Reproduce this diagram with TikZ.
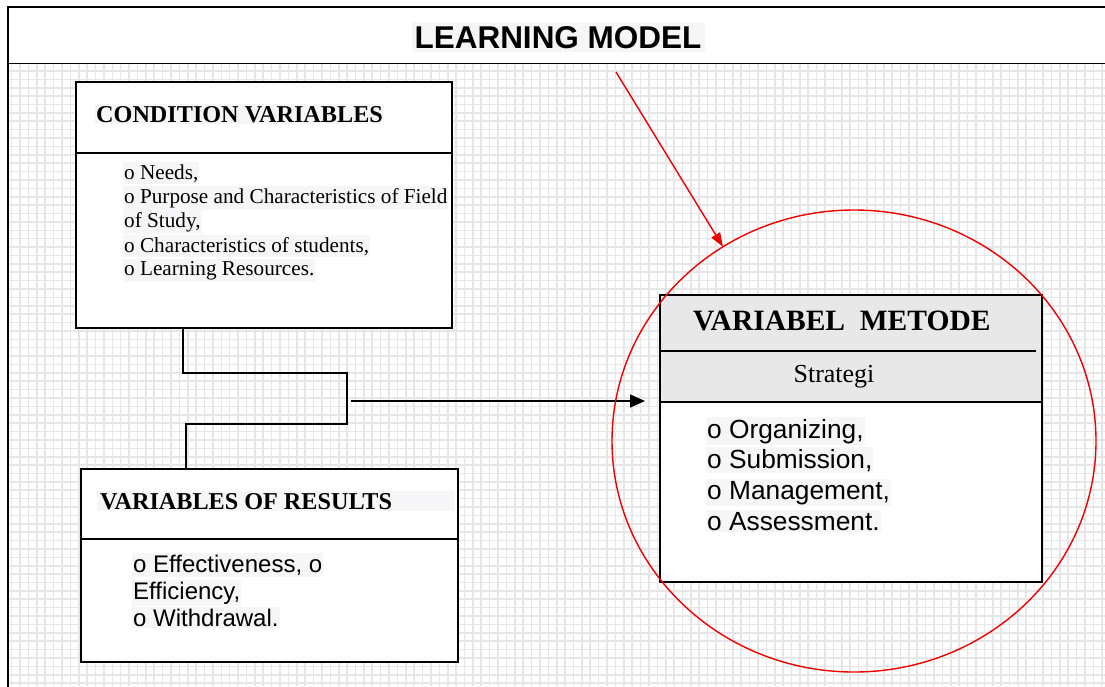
\documentclass[tikz,border=0pt]{standalone}
\usepackage{fontspec}
\setmainfont{Liberation Serif}
\newfontfamily\arialf{Liberation Sans}
\usetikzlibrary{arrows.meta,shapes.geometric}
\definecolor{gridc}{RGB}{230,230,230}
\definecolor{hl}{RGB}{246,246,248}
\definecolor{boxgray}{RGB}{232,232,232}
\definecolor{redc}{RGB}{238,0,0}
\tikzset{
  boxnode/.style={draw=black, line width=2pt, fill=white, anchor=north west, inner sep=0pt, outer sep=0pt},
  divider/.style={line width=1.8pt},
  conn/.style={line width=2pt},
  hltext/.style={fill=hl, anchor=base west, inner xsep=1pt, inner ysep=2pt},
  serifbul/.style={hltext, font=\fontsize{21.2}{24}\selectfont},
  sansbul/.style={hltext, font=\arialf\fontsize{24}{27}\selectfont},
  sansbulm/.style={hltext, font=\arialf\fontsize{26.3}{30}\selectfont},
  vartitle/.style={hltext, font=\bfseries\fontsize{24.2}{26}\selectfont},
}
\begin{document}
\begin{tikzpicture}[x=1pt,y=-1pt]
\useasboundingbox (0,0) rectangle (1105,686);
\fill[white] (0,0) rectangle (1105,686);
% grid
\begin{scope}
\clip (8,64) rectangle (1105,686);
\foreach \i in {0,...,132} \draw[gridc, line width=1.6pt] ({3.3+8.385*\i},64) -- ({3.3+8.385*\i},686);
\foreach \j in {0,...,76} \draw[gridc, line width=1.6pt] (8,{62.6+8.385*\j}) -- (1105,{62.6+8.385*\j});
\end{scope}
% header
\node[boxnode, line width=1.6pt, minimum width=1110, minimum height=56.5] (header) at (8,7) {};
\coordinate (framebottom) at (8,690);
\draw[line width=2pt] (header.north west) -- (framebottom);
\node[fill=hl, anchor=base, inner xsep=3pt, inner ysep=4pt, font=\arialf\bfseries\fontsize{31.5}{34}\selectfont] (title) at (558,48) {LEARNING MODEL};

% condition variables
\node[boxnode, minimum width=376, minimum height=246] (cond) at (76,82) {};
\draw[divider] (76,153) -- (452,153);
\node[vartitle] (condt) at (95,122) {CONDITION VARIABLES};
\node[serifbul] (c1) at (123,179) {o Needs,};
\node[serifbul] (c2) at (123,203) {o Purpose and Characteristics of Field};
\node[serifbul] (c3) at (123,227) {of Study,};
\node[serifbul] (c4) at (123,252) {o Characteristics of students,};
\node[serifbul] (c5) at (123,275) {o Learning Resources.};

% results
\node[boxnode, minimum width=377, minimum height=193] (res) at (81,469) {};
\draw[divider] (81,539) -- (458,539);
\node[vartitle] (rest) at (97,509) {\makebox[356pt][l]{\hspace{2pt}VARIABLES OF RESULTS}};
\node[sansbul] (r1) at (132,572) {o Effectiveness, o};
\node[sansbul] (r2) at (132,599) {Efficiency,};
\node[sansbul] (r3) at (132,626) {o Withdrawal.};

% method
\node[boxnode, minimum width=382, minimum height=287] (method) at (660,295) {};
\fill[boxgray] (661,296) rectangle (1041,402);
\draw[divider] (660,351) -- (1036,351);
\draw[divider] (660,402) -- (1042,402);
\draw[line width=2pt] (method.north west) rectangle (method.south east);
\node[anchor=base west, inner sep=0pt, font=\bfseries\fontsize{29.5}{32}\selectfont] (mt) at (693,330) {VARIABEL\ \ METODE};
\node[anchor=base, inner sep=0pt, font=\fontsize{26}{28}\selectfont] (st) at (834,382) {Strategi};
\node[sansbulm] (m1) at (706,438) {o Organizing,};
\node[sansbulm] (m2) at (706,468) {o Submission,};
\node[sansbulm] (m3) at (706,499) {o Management,};
\node[sansbulm] (m4) at (706,530) {o Assessment.};

% connectors
\coordinate (b1) at (347,373);
\coordinate (b2) at (347,424);
\draw[conn] ([xshift=107]cond.south west) |- (b1) -- (b2) -| ([xshift=105]res.north west);
\coordinate (bm) at (351,401);
\draw[line width=1.6pt, -{Triangle[length=15pt,width=13pt]}, shorten >=15pt] (bm) -- (method.west |- bm);

% red circle and arrow
\node[draw=redc, line width=1.4pt, ellipse, minimum width=484, minimum height=462, inner sep=0pt, outer sep=0pt] (circ) at (854,441) {};
\coordinate (rstart) at (616,72);
\draw[redc, line width=1.4pt, -{Triangle[length=14pt,width=10pt]}] (rstart) -- (circ.124.4);
\end{tikzpicture}
\end{document}
